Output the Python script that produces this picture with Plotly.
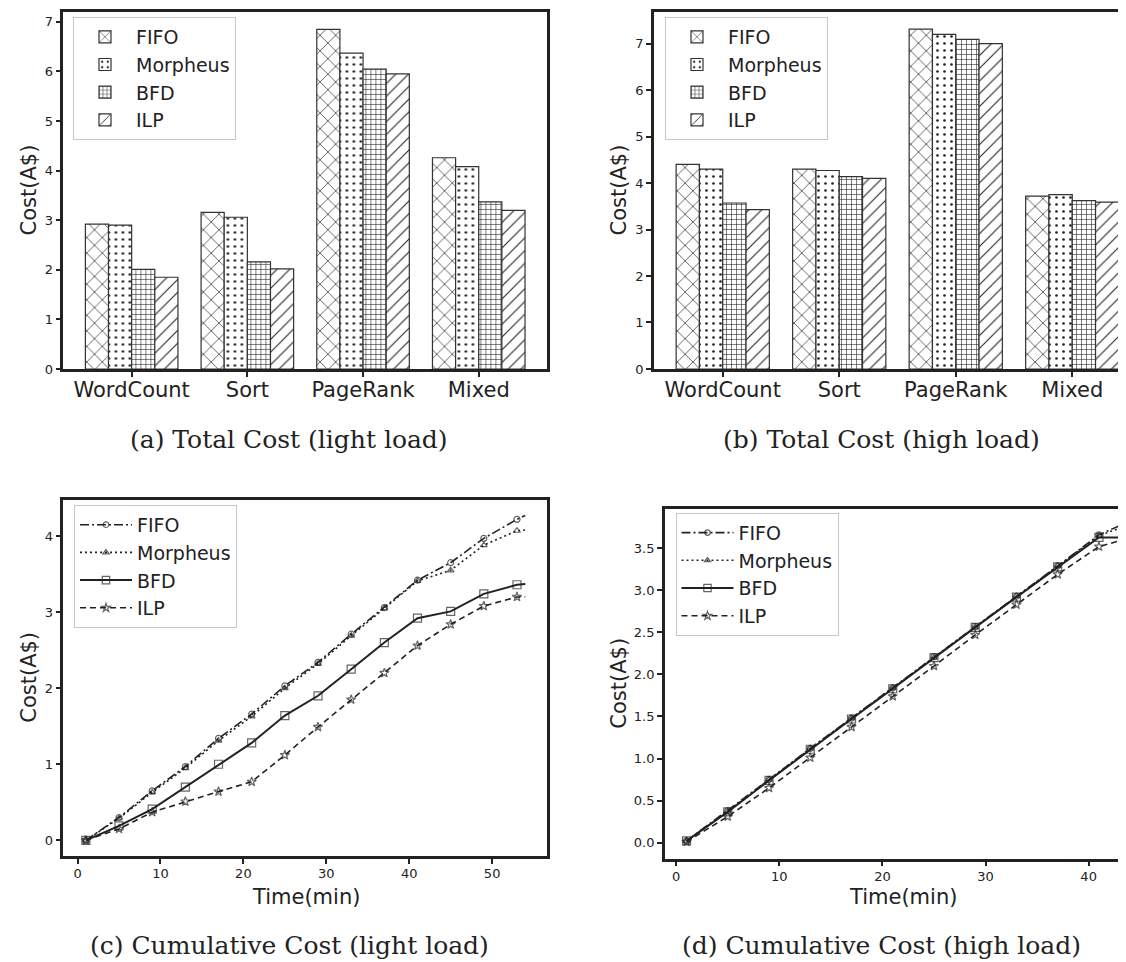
import plotly.graph_objects as go

W, H = 1126, 962

categories = ["WordCount", "Sort", "PageRank", "Mixed"]
series_names = ["FIFO", "Morpheus", "BFD", "ILP"]

light_fifo = [2.92, 3.16, 6.85, 4.26]
light_morpheus = [2.90, 3.06, 6.37, 4.08]
light_bfd = [2.01, 2.16, 6.05, 3.37]
light_ilp = [1.85, 2.02, 5.95, 3.20]

high_fifo = [4.40, 4.30, 7.31, 3.72]
high_morpheus = [4.30, 4.27, 7.20, 3.75]
high_bfd = [3.57, 4.14, 7.09, 3.62]
high_ilp = [3.43, 4.10, 7.00, 3.59]

time_light = [1, 5, 9, 13, 17, 21, 25, 29, 33, 37, 41, 45, 49, 53, 54]
cum_light_fifo = [0.00, 0.30, 0.65, 0.97, 1.34, 1.66, 2.03, 2.34, 2.71, 3.06, 3.42, 3.65, 3.97, 4.22, 4.27]
cum_light_morpheus = [0.00, 0.29, 0.63, 0.95, 1.31, 1.63, 2.00, 2.32, 2.69, 3.05, 3.41, 3.55, 3.88, 4.07, 4.08]
cum_light_bfd = [0.00, 0.19, 0.41, 0.70, 1.00, 1.28, 1.64, 1.90, 2.25, 2.60, 2.92, 3.01, 3.24, 3.36, 3.37]
cum_light_ilp = [0.00, 0.15, 0.37, 0.51, 0.64, 0.77, 1.12, 1.49, 1.85, 2.20, 2.56, 2.84, 3.08, 3.20, 3.20]

time_high = [1, 5, 9, 13, 17, 21, 25, 29, 33, 37, 41, 43]
cum_high_fifo = [0.02, 0.38, 0.75, 1.12, 1.48, 1.84, 2.21, 2.57, 2.93, 3.29, 3.66, 3.77]
cum_high_morpheus = [0.02, 0.37, 0.75, 1.12, 1.48, 1.84, 2.20, 2.56, 2.93, 3.29, 3.65, 3.74]
cum_high_bfd = [0.02, 0.365, 0.74, 1.11, 1.47, 1.83, 2.20, 2.56, 2.92, 3.28, 3.63, 3.63]
cum_high_ilp = [0.01, 0.31, 0.65, 1.01, 1.375, 1.74, 2.10, 2.47, 2.83, 3.19, 3.52, 3.59]

captions = ["(a) Total Cost (light load)", "(b) Total Cost (high load)",
            "(c) Cumulative Cost (light load)", "(d) Cumulative Cost (high load)"]

INK = "#222222"
SANS = "DejaVu Sans"
SERIF = "DejaVu Serif"

def px_x(p):
    return p / W

def px_y(p):
    return 1 - p / H

fig = go.Figure()

patterns = [dict(shape="x", size=11, solidity=0.12),
            dict(shape=".", size=7, solidity=0.12),
            dict(shape="+", size=5, solidity=0.22),
            dict(shape="/", size=9, solidity=0.12)]

light = [light_fifo, light_morpheus, light_bfd, light_ilp]
high = [high_fifo, high_morpheus, high_bfd, high_ilp]

for name, vals, pat in zip(series_names, light, patterns):
    fig.add_trace(go.Bar(
        x=categories, y=vals, name=name, xaxis="x", yaxis="y", legend="legend",
        offsetgroup=name,
        marker=dict(color="white", line=dict(color="#333333", width=1.2),
                    pattern=dict(fgcolor="#222222", bgcolor="white", fillmode="replace", **pat)),
    ))
for name, vals, pat in zip(series_names, high, patterns):
    fig.add_trace(go.Bar(
        x=categories, y=vals, name=name, xaxis="x2", yaxis="y2", legend="legend2",
        offsetgroup=name,
        marker=dict(color="white", line=dict(color="#333333", width=1.2),
                    pattern=dict(fgcolor="#222222", bgcolor="white", fillmode="replace", **pat)),
    ))

line_styles = [
    dict(dash="9px,3px,2px,3px", width=1.6, symbol="circle-open", size=6),
    dict(dash="2px,3px", width=1.6, symbol="triangle-up-open", size=6),
    dict(dash="solid", width=2.0, symbol="square-open", size=8),
    dict(dash="6px,4px", width=1.6, symbol="star-open", size=7),
]

def add_lines(t, series, xa, ya, leg):
    for name, vals, st in zip(series_names, series, line_styles):
        sizes = [st["size"]] * (len(t) - 1) + [0]
        fig.add_trace(go.Scatter(
            x=t, y=vals, name=name, mode="lines+markers", xaxis=xa, yaxis=ya, legend=leg,
            line=dict(color=INK, width=st["width"], dash=st["dash"]),
            marker=dict(symbol=st["symbol"], size=sizes, color=INK,
                        line=dict(color=INK, width=1.2)),
        ))

add_lines(time_light, [cum_light_fifo, cum_light_morpheus, cum_light_bfd, cum_light_ilp], "x3", "y3", "legend3")
add_lines(time_high, [cum_high_fifo, cum_high_morpheus, cum_high_bfd, cum_high_ilp], "x4", "y4", "legend4")

axis_common = dict(showgrid=False, zeroline=False, showline=True, linecolor=INK, linewidth=2.5,
                   ticks="outside", ticklen=5, tickwidth=1.5, tickcolor=INK,
                   tickfont=dict(family=SANS, size=13, color=INK))

# panel geometry (pixels)
A = dict(l=55.4, r=539, t=4, b=364)
B = dict(l=646, r=W, t=4, b=364)
C = dict(l=55.4, r=539, t=495.7, b=855)
D = dict(l=656.8, r=W, t=505, b=857.7)

def dom_x(g):
    return [px_x(g["l"]), px_x(g["r"])]

def dom_y(g):
    return [px_y(g["b"]), px_y(g["t"])]

cat_font = dict(family=SANS, size=21, color=INK)

fig.update_layout(
    width=W, height=H, margin=dict(l=0, r=0, t=0, b=0),
    paper_bgcolor="white", plot_bgcolor="white",
    barmode="group", bargap=0.2, bargroupgap=0.0,
    font=dict(family=SANS, color=INK),
    xaxis=dict(axis_common, domain=dom_x(A), anchor="y", range=[-0.59, 3.59], mirror=True,
               tickfont=cat_font, ticklabelstandoff=-5),
    yaxis=dict(axis_common, domain=dom_y(A), anchor="x", range=[0, 7.2], mirror=True, dtick=1),
    xaxis2=dict(axis_common, domain=dom_x(B), anchor="y2", range=[-0.59, 3.53], mirror=True,
                tickfont=cat_font, ticklabelstandoff=-5),
    yaxis2=dict(axis_common, domain=dom_y(B), anchor="x2", range=[0, 7.68], mirror=False, dtick=1),
    xaxis3=dict(axis_common, domain=dom_x(C), anchor="y3", range=[-1.71, 56.62], mirror=True, dtick=10,
                ticklabelstandoff=-1),
    yaxis3=dict(axis_common, domain=dom_y(C), anchor="x3", range=[-0.205, 4.48], mirror=True, dtick=1),
    xaxis4=dict(axis_common, domain=dom_x(D), anchor="y4", range=[-1.11, 44.4], mirror=True, dtick=10,
                ticklabelstandoff=-1),
    yaxis4=dict(axis_common, domain=dom_y(D), anchor="x4", range=[-0.19, 3.97], mirror=False,
                dtick=0.5, tickformat=".1f"),
)

leg_common = dict(bgcolor="white", bordercolor="#c8c8c8", borderwidth=1,
                  font=dict(family=SANS, size=19, color=INK),
                  xanchor="left", yanchor="top", tracegroupgap=0, itemwidth=52)
fig.update_layout(
    legend=dict(leg_common, x=px_x(65), y=px_y(9)),
    legend2=dict(leg_common, x=px_x(657), y=px_y(9)),
    legend3=dict(leg_common, x=px_x(66), y=px_y(501)),
    legend4=dict(leg_common, x=px_x(667.5), y=px_y(509)),
)

annotations = []
# y axis titles
for cx, g in [(21, A), (611, B), (21, C), (611, D)]:
    annotations.append(dict(text="Cost(A$)", x=px_x(cx), y=px_y((g["t"] + g["b"]) / 2),
                            xref="paper", yref="paper", textangle=-90, showarrow=False,
                            xanchor="center", yanchor="middle",
                            font=dict(family=SANS, size=21, color=INK)))
# x axis titles
for cx, cy in [(297.5, 896), (895, 896)]:
    annotations.append(dict(text="Time(min)", x=px_x(cx), y=px_y(cy), xref="paper", yref="paper",
                            showarrow=False, xanchor="center", yanchor="middle",
                            font=dict(family=SANS, size=21, color=INK)))
# captions
for text, cx, cy in zip(captions, [281, 873, 281, 873], [435, 435, 945, 945]):
    annotations.append(dict(text=text, x=px_x(cx), y=px_y(cy), xref="paper", yref="paper",
                            showarrow=False, xanchor="center", yanchor="middle",
                            font=dict(family=SERIF, size=25, color=INK)))
fig.update_layout(annotations=annotations)

fig.write_html("out.html")
